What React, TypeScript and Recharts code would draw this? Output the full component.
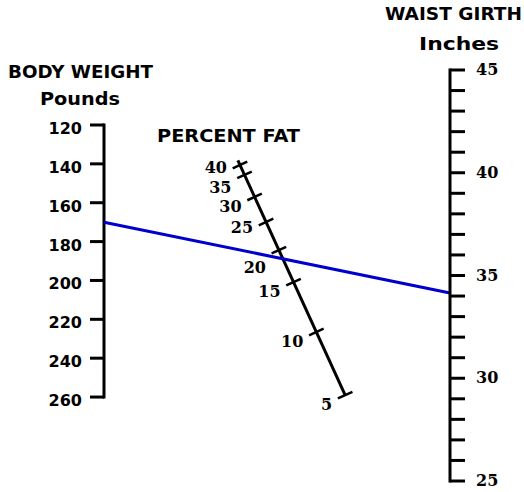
import { ComposedChart, XAxis, YAxis, ReferenceLine, Scatter } from 'recharts'

// body weight scale (left), pounds
const weightTicks = [120, 140, 160, 180, 200, 220, 240, 260]
// waist girth scale (right), inches
const waistLabels = [25, 30, 35, 40, 45]
const waistTicks = Array.from({ length: 21 }, (_, i) => 25 + i)
// percent fat scale (middle), position along the slanted scale (0 = top, 1 = bottom)
const fatValues = [40, 35, 30, 25, 20, 15, 10, 5]
const fatPositions = [0, 0.043, 0.139, 0.248, 0.37, 0.509, 0.726, 1]
// the example reading drawn in blue
const readingWeight = 170
const readingWaist = 34.15

const WEIGHT_DOMAIN = [91.7, 303.2]
const WAIST_DOMAIN = [25, 45]
const fatTop = { x: 0.393, y: 40.38 }
const fatBottom = { x: 0.697, y: 29.18 }

const W = 524
const H = 492
const M = { top: 70, right: 0, bottom: 11, left: 0 }
const LEFT_W = 104
const RIGHT_W = 74
const PLOT_W = W - LEFT_W - RIGHT_W
const PLOT_H = H - M.top - M.bottom

const SANS = "'DejaVu Sans', sans-serif"
const SERIF = "'DejaVu Serif', serif"

// weight value -> same height expressed on the waist axis
const weightToWaist = (w: number) =>
  WAIST_DOMAIN[1] -
  ((w - WEIGHT_DOMAIN[0]) / (WEIGHT_DOMAIN[1] - WEIGHT_DOMAIN[0])) * (WAIST_DOMAIN[1] - WAIST_DOMAIN[0])

const fatAt = (t: number) => ({
  x: fatTop.x + (fatBottom.x - fatTop.x) * t,
  y: fatTop.y + (fatBottom.y - fatTop.y) * t,
})

const fatData = fatValues.map((v, i) => ({ ...fatAt(fatPositions[i]), fat: v }))

// pixel direction of the fat scale, for perpendicular ticks
const ddx = (fatBottom.x - fatTop.x) * PLOT_W
const ddy = ((fatTop.y - fatBottom.y) / (WAIST_DOMAIN[1] - WAIST_DOMAIN[0])) * PLOT_H
const len = Math.hypot(ddx, ddy)
const px = ddy / len
const py = -ddx / len

const labelNudge: Record<number, number> = { 40: -7, 35: 3, 25: -4, 20: 8 }

const FatTick = (props: any) => {
  const { cx, cy, payload } = props
  const h = 8
  return (
    <g>
      <line
        x1={cx - h * px}
        y1={cy - h * py}
        x2={cx + h * px}
        y2={cy + h * py}
        stroke="#000"
        strokeWidth={2.5}
      />
      <text
        x={cx - 13}
        y={cy + 15 + (labelNudge[payload.fat] || 0)}
        textAnchor="end"
        fontFamily={SERIF}
        fontWeight="bold"
        fontSize={16}
        fill="#000"
      >
        {payload.fat}
      </text>
    </g>
  )
}

const WeightTick = ({ x, y, payload }: any) => (
  <text x={x} y={y + 9} textAnchor="end" fontFamily={SANS} fontWeight="bold" fontSize={16} fill="#000">
    {payload.value}
  </text>
)

const WaistTick = ({ x, y, payload }: any) =>
  waistLabels.includes(payload.value) ? (
    <text x={x} y={y + 5} textAnchor="start" fontFamily={SERIF} fontWeight="bold" fontSize={16} fill="#000">
      {payload.value}
    </text>
  ) : (
    <g />
  )

export default function App() {
  const start = fatAt(-0.02)
  const end = fatAt(1)
  return (
    <div style={{ position: 'absolute', left: 0, top: 0, width: W, height: H, background: '#fff' }}>
      <ComposedChart width={W} height={H} data={fatData} margin={M}>
        <XAxis type="number" dataKey="x" domain={[0, 1]} hide />
        <YAxis
          yAxisId="weight"
          orientation="left"
          type="number"
          domain={WEIGHT_DOMAIN}
          reversed
          allowDataOverflow
          ticks={weightTicks}
          interval={0}
          width={LEFT_W}
          tickSize={14}
          tickMargin={8}
          axisLine={false}
          tickLine={{ stroke: '#000', strokeWidth: 3 }}
          tick={<WeightTick />}
        />
        <YAxis
          yAxisId="waist"
          orientation="right"
          type="number"
          dataKey="y"
          domain={WAIST_DOMAIN}
          allowDataOverflow
          ticks={waistTicks}
          interval={0}
          width={RIGHT_W}
          tickSize={15}
          tickMargin={11}
          axisLine={{ stroke: '#000', strokeWidth: 3, strokeLinecap: 'square' }}
          tickLine={{ stroke: '#000', strokeWidth: 3 }}
          tick={<WaistTick />}
        />
        <ReferenceLine
          yAxisId="weight"
          segment={[
            { x: 0, y: weightTicks[0] },
            { x: 0, y: weightTicks[weightTicks.length - 1] },
          ]}
          stroke="#000"
          strokeWidth={3}
          strokeLinecap="square"
        />
        <ReferenceLine
          yAxisId="waist"
          segment={[
            { x: start.x, y: start.y },
            { x: end.x, y: end.y },
          ]}
          stroke="#000"
          strokeWidth={3}
        />
        <Scatter yAxisId="waist" dataKey="y" data={fatData} shape={<FatTick />} isAnimationActive={false} />
        <ReferenceLine
          yAxisId="waist"
          segment={[
            { x: 0, y: weightToWaist(readingWeight) },
            { x: 1, y: readingWaist },
          ]}
          stroke="#0000cc"
          strokeWidth={3}
        />
      </ComposedChart>
      <svg width={W} height={H} style={{ position: 'absolute', left: 0, top: 0, pointerEvents: 'none' }}>
        <g fontFamily={SANS} fontWeight="bold" fontSize={18} fill="#000" textAnchor="middle">
          <text x={80.5} y={78} textLength={145} lengthAdjust="spacingAndGlyphs">BODY WEIGHT</text>
          <text x={80} y={105} textLength={80} lengthAdjust="spacingAndGlyphs">Pounds</text>
          <text x={453.5} y={20} textLength={137} lengthAdjust="spacingAndGlyphs">WAIST GIRTH</text>
          <text x={459} y={50} textLength={80} lengthAdjust="spacingAndGlyphs">Inches</text>
          <text x={228.5} y={142} textLength={143} lengthAdjust="spacingAndGlyphs">PERCENT FAT</text>
        </g>
      </svg>
    </div>
  )
}
